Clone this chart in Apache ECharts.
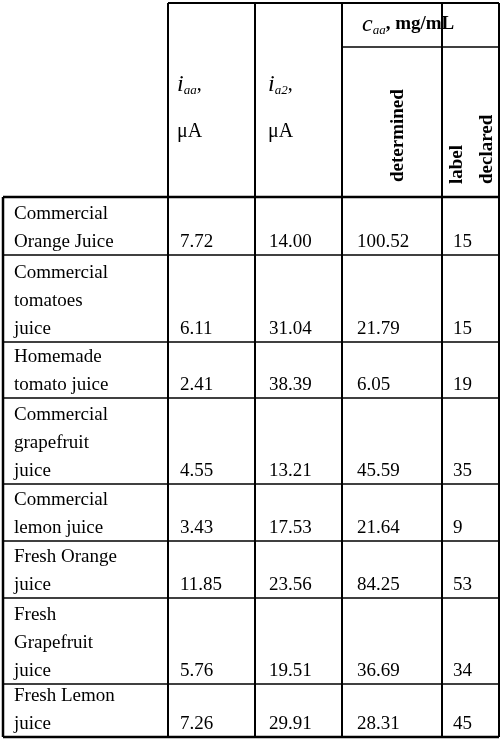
<!DOCTYPE html><html><head><meta charset="utf-8">
<script src="https://cdn.jsdelivr.net/npm/echarts@6/dist/echarts.min.js"></script>
<style>html,body{margin:0;padding:0;background:#fff}#c{width:500px;height:739px}</style></head><body><div id="c"></div>
<script>
const samples = [["Commercial","Orange Juice"],["Commercial","tomatoes","juice"],["Homemade","tomato juice"],["Commercial","grapefruit","juice"],["Commercial","lemon juice"],["Fresh Orange","juice"],["Fresh","Grapefruit","juice"],["Fresh Lemon","juice"]];
const iaa = ["7.72","6.11","2.41","4.55","3.43","11.85","5.76","7.26"];
const ia2 = ["14.00","31.04","38.39","13.21","17.53","23.56","19.51","29.91"];
const determined = ["100.52","21.79","6.05","45.59","21.64","84.25","36.69","28.31"];
const declared = ["15","15","19","35","9","53","34","45"];

const colX=[3,168,255,342,442,499];
const pad=[12,12,14,15,11];
const headTop=3, headSplit=47, headBot=197;
const rowBot=[255,342,398,484,541,598,684,737];
const F='Liberation Serif';
const g=[];
function line(x1,y1,x2,y2,w){g.push({type:'line',shape:{x1,y1,x2,y2},style:{stroke:'#000',lineWidth:w||1.5}});}
function st(o){return Object.assign({fontSize:19,fontFamily:F,fill:'#000'},o);}
function txt(x,y,t,o){g.push({type:'text',x,y,style:st(Object.assign({text:t,verticalAlign:'bottom'},o||{}))});}
line(colX[1],headTop,colX[5],headTop,2);
line(colX[3],headSplit,colX[5],headSplit,1.5);
line(colX[0],headBot,colX[5],headBot,2.5);
for(let i=1;i<=5;i++) line(colX[i],headTop,colX[i],rowBot[7],2);
line(colX[4],headSplit,colX[4],rowBot[7],1.5);
line(colX[0],headBot,colX[0],rowBot[7],2.5);
rowBot.forEach((y,i)=>line(colX[0],y,colX[5],y,i==7?2.5:1.5));
const rich={b:{fontSize:24,fontStyle:'italic',fontFamily:F,fill:'#000'},s:{fontSize:13,fontStyle:'italic',fontFamily:F,fill:'#000',padding:[12,0,0,0]},c:{fontSize:20,fontFamily:F,fill:'#000'},cb:{fontSize:19,fontWeight:'bold',fontFamily:F,fill:'#000'}};
g.push({type:'text',x:177,y:72,style:{rich,text:'{b|i}{s|aa}{c|,}'}});
g.push({type:'text',x:268,y:72,style:{rich,text:'{b|i}{s|a2}{c|,}'}});
txt(177,142,'μA',{fontSize:20}); txt(268,142,'μA',{fontSize:20});
g.push({type:'text',x:362,y:12,style:{rich,text:'{b|c}{s|aa}{cb|, mg/mL}'}});
const rot=(x,y,t)=>g.push({type:'text',x,y,rotation:Math.PI/2,style:st({text:t,fontWeight:'bold',verticalAlign:'middle'})});
rot(398,182,'determined'); rot(457,184,'label'); rot(487,184,'declared');
const cols=[iaa,ia2,determined,declared];
samples.forEach((lines,r)=>{
  const b=rowBot[r]-3;
  lines.forEach((l,k)=>txt(14,b-(lines.length-1-k)*28,l));
  cols.forEach((c,j)=>txt(colX[j+1]+pad[j+1],b,c[r]));
});
const ch=echarts.init(document.getElementById('c'),null,{renderer:'canvas'});
ch.setOption({animation:false,graphic:g});
</script></body></html>
